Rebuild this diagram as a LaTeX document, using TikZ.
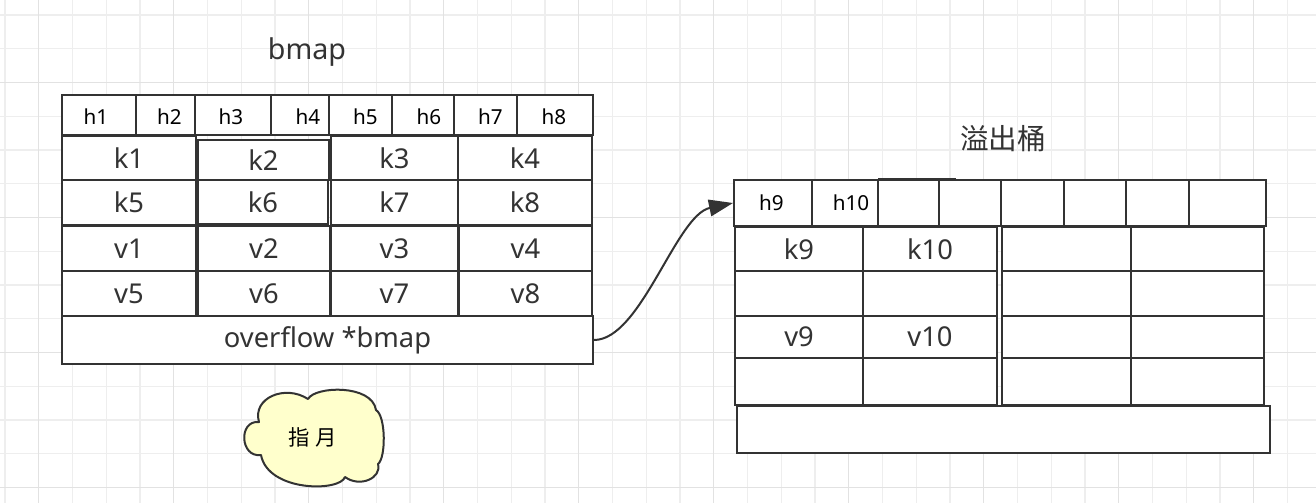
\documentclass[tikz,border=0pt]{standalone}
\usepackage{fontspec}
\setmainfont{Noto Sans}
\newfontfamily\cjk{Noto Sans CJK SC}
\usetikzlibrary{arrows.meta}
\definecolor{gridminor}{HTML}{EEEEEE}
\definecolor{gridmajor}{HTML}{E2E2E2}
\definecolor{ink}{HTML}{333333}
\definecolor{note}{HTML}{FFFFCC}
\tikzset{
  cellbox/.style={draw=ink, line width=1.5pt, fill=white, inner sep=0pt,
    font=\fontsize{20.5}{22}\selectfont, text=ink},
  hdr/.style={font=\fontsize{15.5}{16}\selectfont, text=black, inner sep=0pt},
  title/.style={font=\fontsize{21.5}{24}\selectfont, text=ink, inner sep=0pt},
  link/.style={draw=ink, line width=1.5pt, -{Triangle[length=18pt,width=12.5pt]}},
}
% a table cell spanning the box (x1,y1)-(x2,y2), in pixel units
\newcommand\tcell[6]{\node[cellbox, minimum width={(#4-#2)*0.75pt},
  minimum height={(#5-#3)*0.75pt}] (#1) at ({(#2+#4)/2},{(#3+#5)/2}) {#6};}
\begin{document}
\begin{tikzpicture}[x=0.75pt, y=-0.75pt]
\useasboundingbox (0,0) rectangle (1316,503);
\fill[white] (0,0) rectangle (1316,503);
% background grid
\foreach \i in {0,...,38}
  \draw[gridminor, line width=0.8pt] ({5+33.75*\i},0) -- ({5+33.75*\i},503);
\foreach \j in {0,...,14}
  \draw[gridminor, line width=0.8pt] (0,{15+33.75*\j}) -- (1316,{15+33.75*\j});
\foreach \i in {0,...,9}
  \draw[gridmajor, line width=0.9pt] ({38.75+135*\i},0) -- ({38.75+135*\i},503);
\foreach \j in {0,...,3}
  \draw[gridmajor, line width=0.9pt] (0,{82.5+135*\j}) -- (1316,{82.5+135*\j});

% ---- bmap ----
\node[title] (bmaptitle) at (307,52) {bmap};
\tcell{h1c}{62}{95}{136}{135}{}
\tcell{h2c}{136}{95}{195}{135}{}
\tcell{h3c}{195}{95}{271}{135}{}
\tcell{h4c}{271}{95}{329}{135}{}
\tcell{h5c}{329}{95}{392}{135}{}
\tcell{h6c}{392}{95}{454}{135}{}
\tcell{h7c}{454}{95}{517}{135}{}
\tcell{h8c}{517}{95}{593}{135}{}
\node[hdr] (h1) at (96,117) {h1};
\node[hdr] (h2) at (169.5,117) {h2};
\node[hdr] (h3) at (231,117) {h3};
\node[hdr] (h4) at (308,117) {h4};
\node[hdr] (h5) at (365.5,117) {h5};
\node[hdr] (h6) at (429,117) {h6};
\node[hdr] (h7) at (490.5,117) {h7};
\node[hdr] (h8) at (554,117) {h8};

\tcell{k1}{62}{136}{196}{180}{k1}
\tcell{k3}{331}{136}{458}{180}{k3}
\tcell{k4}{458}{136}{592}{180}{k4}
\tcell{k5}{62}{180}{196}{225}{k5}
\tcell{k7}{331}{180}{458}{225}{k7}
\tcell{k8}{458}{180}{592}{225}{k8}
\tcell{k2}{198}{140}{329}{180}{k2}
\tcell{k6}{198}{180}{328}{224}{k6}

\tcell{v1}{62}{226}{196}{271}{v1}
\tcell{v2}{198}{226}{330}{271}{v2}
\tcell{v3}{331}{226}{458}{271}{v3}
\tcell{v4}{459}{226}{592}{271}{v4}
\tcell{v5}{62}{271}{196}{316}{v5}
\tcell{v6}{198}{271}{330}{316}{v6}
\tcell{v7}{331}{271}{458}{316}{v7}
\tcell{v8}{459}{271}{592}{316}{v8}
\tcell{ovf}{62}{316}{593}{364}{overflow *bmap}

% ---- overflow bucket ----
\node[title, font=\cjk\fontsize{21.5}{24}\selectfont] (obtitle) at (1003,139) {溢出桶};
\draw[ink, line width=1.5pt] (878,178.5) -- (956,178.5);
\tcell{h9c}{734}{180}{812}{226}{}
\tcell{h10c}{812}{180}{878}{226}{}
\tcell{hc3}{878}{180}{939}{226}{}
\tcell{hc4}{939}{180}{1001}{226}{}
\tcell{hc5}{1001}{180}{1064}{226}{}
\tcell{hc6}{1064}{180}{1126}{226}{}
\tcell{hc7}{1126}{180}{1189}{226}{}
\tcell{hc8}{1189}{180}{1266}{226}{}
\node[hdr] (h9) at (771.5,203) {h9};
\node[hdr] (h10) at (851,203) {h10};

\tcell{k9}{735}{227}{863}{271}{k9}
\tcell{k10}{863}{227}{997}{271}{k10}
\tcell{e1}{735}{271}{863}{316}{}
\tcell{e2}{863}{271}{997}{316}{}
\tcell{v9}{735}{316}{863}{358}{v9}
\tcell{v10}{863}{316}{997}{358}{v10}
\tcell{e3}{735}{358}{863}{405}{}
\tcell{e4}{863}{358}{997}{405}{}

\tcell{r1}{1002}{227}{1131}{271}{}
\tcell{r2}{1131}{227}{1264}{271}{}
\tcell{r3}{1002}{271}{1131}{316}{}
\tcell{r4}{1131}{271}{1264}{316}{}
\tcell{r5}{1002}{316}{1131}{358}{}
\tcell{r6}{1131}{316}{1264}{358}{}
\tcell{r7}{1002}{358}{1131}{405}{}
\tcell{r8}{1131}{358}{1264}{405}{}
\tcell{obovf}{737}{406}{1270}{453}{}

% overflow pointer
\draw[link] (ovf.east) .. controls +(47,0) and +(-57,12) .. (h9c.west);

% note: six-puff cloud
\draw[ink, fill=note, line width=1.5pt, line join=round]
  (259,422) .. controls (252,398) and (285,384) .. (308,399)
  .. controls (315,386) and (372,384) .. (376,410)
  .. controls (386,416) and (386,458) .. (378,464)
  .. controls (382,478) and (360,488) .. (345,477)
  .. controls (340,492) and (268,492) .. (261,455)
  .. controls (240,458) and (238,420) .. (259,422) -- cycle;
\node[inner sep=0pt, font=\cjk\fontsize{16}{17}\selectfont, text=black]
  (moon) at (312.5,437) {指\hspace{4pt}月};
\end{tikzpicture}
\end{document}
